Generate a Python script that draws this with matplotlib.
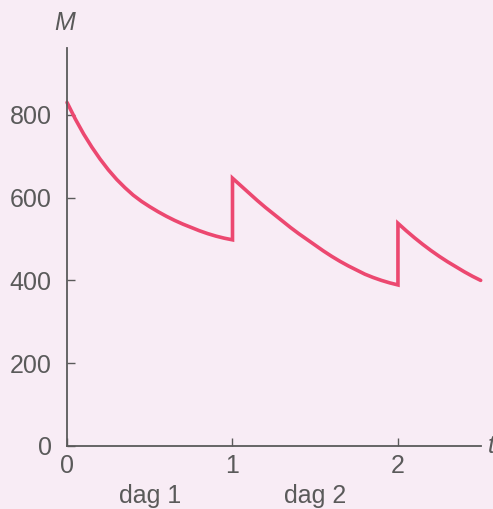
import matplotlib
matplotlib.use("Agg")
import matplotlib.pyplot as plt

BG = "#f8ecf5"
INK = "#5a5a5a"
CURVE = "#ec4870"
plt.rcParams.update({"font.family": ["Liberation Sans", "DejaVu Sans"]})

# dose curve (t in days, M in mg)
t1 = [0.0, 0.05, 0.1, 0.15, 0.2, 0.25, 0.3, 0.35, 0.4, 0.45, 0.5,
      0.55, 0.6, 0.65, 0.7, 0.75, 0.8, 0.85, 0.9, 0.95, 1.0]
m1 = [830, 790, 754, 722, 693, 667, 644, 624, 606, 591, 578,
      566, 555, 545, 536, 528, 520, 513, 507, 502, 498]
t2 = [1.0, 1.05, 1.1, 1.15, 1.2, 1.25, 1.3, 1.35, 1.4, 1.45, 1.5,
      1.55, 1.6, 1.65, 1.7, 1.75, 1.8, 1.85, 1.9, 1.95, 2.0]
m2 = [647, 629, 611, 593, 576, 560, 544, 528, 513, 499, 485,
      471, 458, 446, 435, 425, 415, 407, 400, 394, 389]
t3 = [2.0, 2.05, 2.1, 2.15, 2.2, 2.25, 2.3, 2.35, 2.4, 2.45, 2.5]
m3 = [538, 520, 503, 487, 472, 458, 445, 433, 421, 410, 400]

t_all = t1 + t2 + t3
m_all = m1 + m2 + m3

xticks = [0, 1, 2]
yticks = [0, 200, 400, 600, 800]
day_labels = ["dag 1", "dag 2"]
day_pos = [0.5, 1.5]

fig = plt.figure(figsize=(4.93, 5.09), dpi=100, facecolor=BG)
ax = fig.add_axes([0.136, 0.124, 0.839, 0.782], facecolor=BG)
ax.plot(t_all, m_all, color=CURVE, lw=2.6, solid_joinstyle="miter",
        solid_capstyle="round", clip_on=False)

ax.set_xlim(0, 2.5)
ax.set_ylim(0, 962)
for s in ["top", "right"]:
    ax.spines[s].set_visible(False)
for s in ["left", "bottom"]:
    ax.spines[s].set_color(INK)
    ax.spines[s].set_linewidth(1.3)

ax.set_xticks(xticks)
ax.set_yticks(yticks)
ax.tick_params(direction="in", length=6, width=1, color=INK,
               labelcolor=INK, labelsize=18, pad=6)
ax.tick_params(axis="y", pad=11)

for p, lab in zip(day_pos, day_labels):
    ax.text(p, -0.125, lab, transform=ax.get_xaxis_transform(),
            ha="center", va="center", fontsize=18, color=INK)

fig.text(0.132, 0.955, "M", ha="center", va="center", fontsize=18,
         style="italic", color=INK)
fig.text(0.990, 0.124, "t", ha="left", va="center", fontsize=18,
         style="italic", color=INK)

fig.savefig("out.png", dpi=100, facecolor=BG)
